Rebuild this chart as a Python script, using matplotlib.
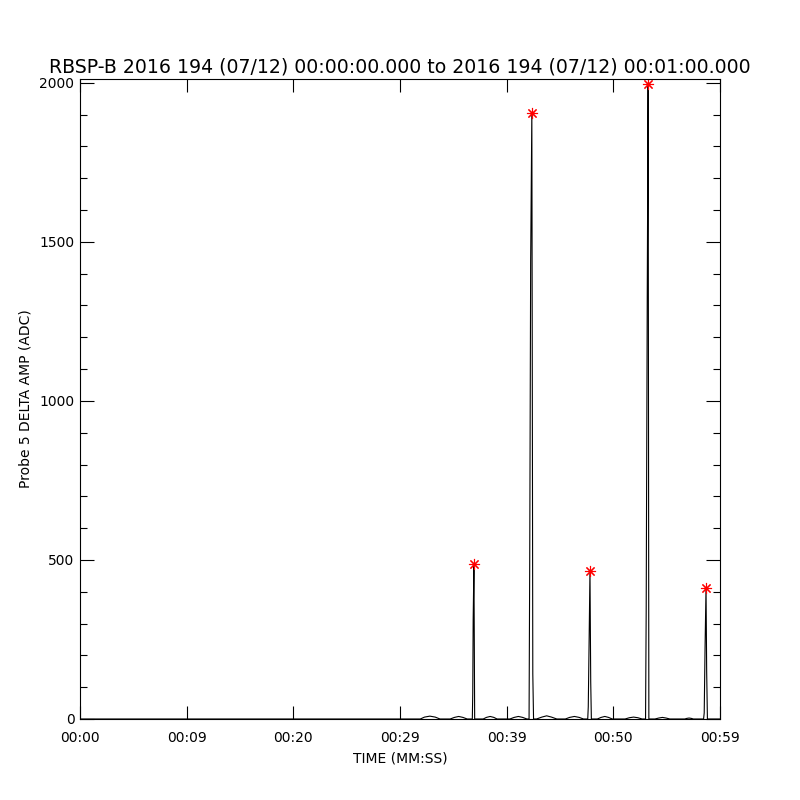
import matplotlib
matplotlib.use("Agg")
import matplotlib.pyplot as plt
from matplotlib.ticker import MultipleLocator, FixedLocator

# probe 5 delta amplitude (seconds after 00:00:00, ADC counts)
time_s = [0.0, 31.9, 32.3, 32.8, 33.3, 33.75,
          34.7, 35.1, 35.5, 35.9, 36.3,
          36.78, 36.82, 36.86, 36.93, 37.00,
          37.8, 38.1, 38.45, 38.8, 39.1,
          40.3, 40.7, 41.1, 41.5, 41.9,
          42.10, 42.16, 42.25, 42.36, 42.45, 42.52,
          42.8, 43.3, 43.75, 44.2, 44.7,
          45.5, 45.9, 46.35, 46.8, 47.2,
          47.60, 47.65, 47.74, 47.81, 47.88, 47.94,
          48.5, 48.85, 49.2, 49.55, 49.9,
          51.1, 51.5, 51.9, 52.3, 52.7,
          53.02, 53.08, 53.18, 53.26, 53.33,
          53.9, 54.25, 54.6, 54.95, 55.3,
          56.7, 56.9, 57.1, 57.3, 57.5,
          58.46, 58.52, 58.60, 58.69, 58.75, 58.82, 60.0]
amp = [0, 0, 6, 9, 6, 0,
       0, 5, 8, 5, 0,
       0, 79, 312, 487, 0,
       0, 5, 8, 5, 0,
       0, 5, 8, 5, 0,
       0, 488, 1440, 1905, 142, 0,
       0, 6, 10, 6, 0,
       0, 5, 8, 5, 0,
       0, 38, 274, 466, 117, 0,
       0, 5, 8, 5, 0,
       0, 4, 6, 4, 0,
       0, 340, 1335, 1995, 0,
       0, 3, 5, 3, 0,
       0, 2, 3, 2, 0,
       0, 19, 227, 413, 150, 0, 0]

peak_t = [36.93, 42.36, 47.81, 53.26, 58.69]
peak_amp = [487, 1905, 466, 1995, 413]

xtick_pos = [0, 10, 20, 30, 40, 50, 60]
xtick_lab = ['00:00', '00:09', '00:20', '00:29', '00:39', '00:50', '00:59']

plt.rcParams['font.family'] = ['DejaVu Sans']

fig = plt.figure(figsize=(8, 8), dpi=100)
ax = fig.add_axes([0.1, 0.10125, 0.8, 0.8])

ax.plot(time_s, amp, color='black', lw=0.8)
ax.plot(peak_t, peak_amp, linestyle='none', marker=(8, 2, 0),
        markersize=8, markeredgecolor='red', markeredgewidth=0.8)

ax.set_xlim(0, 60)
ax.set_ylim(0, 2012)
ax.xaxis.set_major_locator(FixedLocator(xtick_pos))
ax.set_xticklabels(xtick_lab)
ax.yaxis.set_major_locator(MultipleLocator(500))
ax.yaxis.set_minor_locator(MultipleLocator(100))

ax.tick_params(axis='both', which='both', direction='in', top=True, right=True,
               labelsize=10, width=0.8, color='black')
ax.tick_params(axis='x', which='major', length=9.5, pad=9)
ax.tick_params(axis='y', which='major', length=10, pad=4)
ax.tick_params(axis='y', which='minor', length=5)
for s in ax.spines.values():
    s.set_linewidth(0.8)

ax.set_title('RBSP-B 2016 194 (07/12) 00:00:00.000 to 2016 194 (07/12) 00:01:00.000',
             fontsize=13.6, pad=5)
ax.set_xlabel('TIME (MM:SS)', fontsize=10, labelpad=4)
ax.set_ylabel('Probe 5 DELTA AMP (ADC)', fontsize=10, labelpad=5)

fig.savefig('out.png', dpi=100, facecolor='white')
